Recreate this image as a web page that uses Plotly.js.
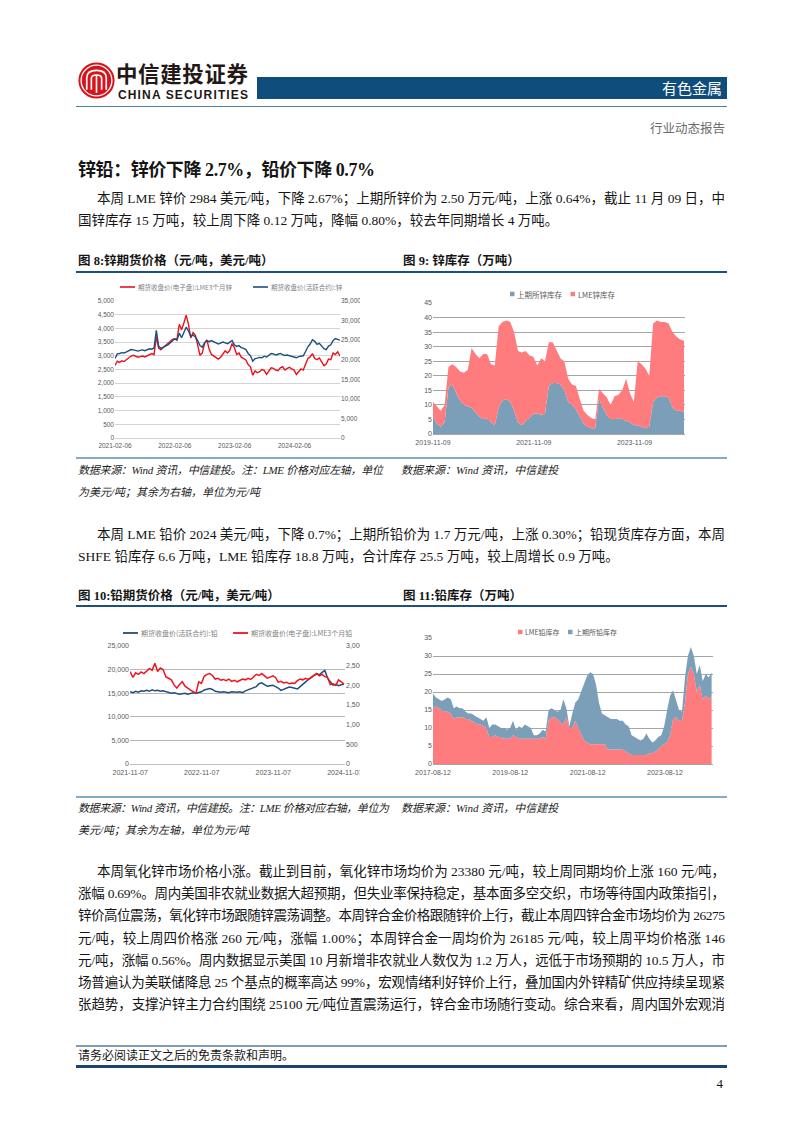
<!DOCTYPE html>
<html lang="zh-CN">
<head>
<meta charset="utf-8">
<title>有色金属 行业动态报告</title>
<script src="https://cdn.plot.ly/plotly-3.0.1.min.js"></script>
<style>
 html,body{margin:0;padding:0;background:#fff}
 body{width:802px;height:1133px;position:relative;overflow:hidden;font-family:"Liberation Serif","Noto Sans CJK SC",serif;color:#151515}
 .t{position:absolute;white-space:pre;line-height:18px;height:18px}
 .body{font-size:13.5px}
 .src{font-size:11px;font-style:italic;color:#222}
 .ft{font-size:12.5px;font-weight:bold}
 .rule{position:absolute;left:76px;width:651px}
 .chart{position:absolute;overflow:hidden}
</style>
</head>
<body>
<!-- header -->
<svg style="position:absolute;left:78px;top:62px" width="37" height="37" viewBox="0 0 36 36">
 <circle cx="18" cy="18" r="17.6" fill="#d7141b"/>
 <circle cx="18" cy="18" r="15" fill="none" stroke="#fff" stroke-width="1.3"/>
 <path d="M8.5 27 V15.5 Q8.5 8.2 18 8.2 Q27.5 8.2 27.5 15.5 V27" fill="none" stroke="#fff" stroke-width="1.6"/>
 <path d="M13 27 V16 Q13 12.6 18 12.6 Q23 12.6 23 16 V27" fill="none" stroke="#fff" stroke-width="1.6"/>
 <path d="M18 12.6 V30" stroke="#fff" stroke-width="1.6"/>
</svg>
<div class="t" style="left:116px;top:57px;height:24px;line-height:24px;font:bold 21.5px 'Noto Sans CJK SC';color:#231815" data-w="132">中信建投证券</div>
<div class="t" style="left:118px;top:88px;height:12px;line-height:12px;font:bold 12px 'Liberation Sans';color:#231815" data-w="130">CHINA SECURITIES</div>
<div style="position:absolute;left:257px;top:77px;width:470px;height:22px;background:#0f4d7d"></div>
<div class="t" style="right:80px;top:78px;height:20px;line-height:20px;font-size:15px;font-family:'Noto Sans CJK SC';color:#fff">有色金属</div>
<div class="rule" style="top:105.5px;height:1.5px;background:#4d7fa5"></div>
<div class="t" style="right:77px;top:119px;font-size:12.5px;font-family:'Noto Sans CJK SC';color:#6b6b6b">行业动态报告</div>

<!-- section title -->
<div class="t" style="left:78px;top:158px;height:24px;line-height:24px;font-size:18px;font-weight:bold" data-w="297">锌铅：锌价下降 2.7%，铅价下降 0.7%</div>

<!-- paragraph 1 -->
<div class="t body" style="left:97px;top:190px" data-w="628">本周 LME 锌价 2984 美元/吨，下降 2.67%；上期所锌价为 2.50 万元/吨，上涨 0.64%，截止 11 月 09 日，中</div>
<div class="t body" style="left:78px;top:212px">国锌库存 15 万吨，较上周下降 0.12 万吨，降幅 0.80%，较去年同期增长 4 万吨。</div>

<!-- figure titles row 1 -->
<div class="t ft" style="left:78px;top:252px">图 8:锌期货价格（元/吨，美元/吨）</div>
<div class="t ft" style="left:403px;top:252px">图 9: 锌库存（万吨）</div>
<div class="rule" style="top:270.5px;height:2px;background:#1d4f7c"></div>

<div class="chart" style="left:80px;top:275px;width:280px;height:175px"><div id="p8"></div></div>
<div class="chart" style="left:400px;top:275px;width:300px;height:175px"><div id="p9"></div></div>

<div class="rule" style="top:457px;height:2px;background:#86a9c4"></div>
<div class="t src" style="left:78px;top:461px" data-w="305">数据来源：Wind 资讯，中信建投。注：LME 价格对应左轴，单位</div>
<div class="t src" style="left:78px;top:483px">为美元/吨；其余为右轴，单位为元/吨</div>
<div class="t src" style="left:401px;top:461px">数据来源：Wind 资讯，中信建投</div>

<!-- paragraph 2 -->
<div class="t body" style="left:97px;top:526px" data-w="628">本周 LME 铅价 2024 美元/吨，下降 0.7%；上期所铅价为 1.7 万元/吨，上涨 0.30%；铅现货库存方面，本周</div>
<div class="t body" style="left:78px;top:548px">SHFE 铅库存 6.6 万吨，LME 铅库存 18.8 万吨，合计库存 25.5 万吨，较上周增长 0.9 万吨。</div>

<!-- figure titles row 2 -->
<div class="t ft" style="left:78px;top:587px">图 10:铅期货价格（元/吨，美元/吨）</div>
<div class="t ft" style="left:403px;top:587px">图 11:铅库存（万吨）</div>
<div class="rule" style="top:604.5px;height:2px;background:#1d4f7c"></div>

<div class="chart" style="left:80px;top:610px;width:280px;height:178px"><div id="p10"></div></div>
<div class="chart" style="left:400px;top:610px;width:320px;height:178px"><div id="p11"></div></div>

<div class="rule" style="top:795.5px;height:2px;background:#86a9c4"></div>
<div class="t src" style="left:78px;top:799px" data-w="311">数据来源：Wind 资讯，中信建投。注：LME 价格对应右轴，单位为</div>
<div class="t src" style="left:78px;top:821px">美元/吨；其余为左轴，单位为元/吨</div>
<div class="t src" style="left:401px;top:799px">数据来源：Wind 资讯，中信建投</div>

<!-- paragraph 3 -->
<div class="t body" style="left:97px;top:863px" data-w="628">本周氧化锌市场价格小涨。截止到目前，氧化锌市场均价为 23380 元/吨，较上周同期均价上涨 160 元/吨，</div>
<div class="t body" style="left:78px;top:885.2px" data-w="647">涨幅 0.69%。周内美国非农就业数据大超预期，但失业率保持稳定，基本面多空交织，市场等待国内政策指引，</div>
<div class="t body" style="left:78px;top:907.4px" data-w="647">锌价高位震荡，氧化锌市场跟随锌震荡调整。本周锌合金价格跟随锌价上行，截止本周四锌合金市场均价为 26275</div>
<div class="t body" style="left:78px;top:929.6px" data-w="647">元/吨，较上周四价格涨 260 元/吨，涨幅 1.00%；本周锌合金一周均价为 26185 元/吨，较上周平均价格涨 146</div>
<div class="t body" style="left:78px;top:951.8px" data-w="647">元/吨，涨幅 0.56%。周内数据显示美国 10 月新增非农就业人数仅为 1.2 万人，远低于市场预期的 10.5 万人，市</div>
<div class="t body" style="left:78px;top:974px" data-w="647">场普遍认为美联储降息 25 个基点的概率高达 99%，宏观情绪利好锌价上行，叠加国内外锌精矿供应持续呈现紧</div>
<div class="t body" style="left:78px;top:996.2px" data-w="647">张趋势，支撑沪锌主力合约围绕 25100 元/吨位置震荡运行，锌合金市场随行变动。综合来看，周内国外宏观消</div>

<!-- footer -->
<div class="rule" style="top:1044.5px;height:2px;background:#7f9db4"></div>
<div class="t" style="left:78px;top:1047px;font-size:12px">请务必阅读正文之后的免责条款和声明。</div>
<div class="rule" style="top:1065px;height:2.5px;background:#1b446d"></div>
<div class="t" style="right:79px;top:1075px;font-size:13px">4</div>

<script>
// ---------------- data ----------------
// Figure 8: zinc futures prices, sampled every 14 days from 2021-02-06
const zincPriceStart = '2021-02-06';
const zincPriceTicks = ['2021-02-06', '2022-02-06', '2023-02-06', '2024-02-06'];
const zincLmeName = '期货收盘价(电子盘):LME3个月锌';
const zincShfeName = '期货收盘价(活跃合约):锌';
const zincLmeUsd = [2650,2800,2760,2820,2790,2860,2900,2990,3020,2990,
  2950,2970,2990,2960,3000,3030,3080,3040,3700,3280,
  3220,3300,3360,3450,3520,3600,3620,3600,4150,3950,
  4200,4480,4150,3650,3850,3750,3400,3020,3100,3450,
  3580,3250,3050,3000,2960,2880,2950,3050,3180,3100,
  3200,3450,3300,3050,3100,2950,2900,2850,2680,2600,
  2290,2450,2380,2420,2500,2470,2320,2450,2560,2540,
  2480,2460,2560,2600,2480,2540,2580,2520,2480,2320,
  2420,2520,2480,2700,2900,2960,3080,2900,2860,2920,
  2780,2640,2700,2880,2860,3100,3050,3150,2984];
const zincShfeCny = [20300,21500,21600,21800,21700,22000,22300,22600,22500,22300,
  22200,22400,22500,22300,22600,22800,22700,23000,27500,23500,
  22900,23200,23400,23800,24300,24800,25300,25000,26800,25600,
  27000,28300,27400,26000,26300,25800,24900,23600,23200,24300,
  24900,24600,24900,24700,24300,24000,24200,24500,24300,24100,
  24500,24900,23800,23400,23600,23100,22900,22600,21600,21000,
  19600,20300,20400,20600,20500,20900,20700,21200,21600,21500,
  21200,21400,21600,21300,21100,21200,21000,20700,20600,20500,
  20800,20900,21000,22100,23300,24000,25100,24700,23900,24200,
  23500,22800,22600,23500,23800,24900,25400,25100,25000];

// Figure 9: zinc inventories (10k t), sampled every 28 days from 2019-11-09
const zincStockStart = '2019-11-09';
const zincStockTicks = ['2019-11-09', '2021-11-09', '2023-11-09'];
const zincShfeStockName = '上期所锌库存';
const zincLmeStockName = 'LME锌库存';
const zincStockShfe = [6,3.5,2.5,4,16,17,14,11.5,10,9.5,
  9,7.5,6,5,5.5,4,3,9,11.5,12,
  11,8,4,3,4.5,5.5,7,7,6.5,7,
  16.5,17.5,17.5,17,15,11,10,8.5,6,3.5,
  2.5,2,2,12,9,6.5,5,5,5.5,5,
  4.5,4,3,3,2.5,2,2.5,11,12.5,13,
  13,12.5,9,8,8,7.5];
const zincStockLme = [5,6,5.5,6,7,7,9,10,11,12.5,
  20.5,20,20,22.5,22,20,20.5,28,27,27,
  27.5,27,24.5,25,24,21.5,19.5,16.5,19.5,18,
  15,14,11.5,9,10,8,7,8,6,4.5,
  4,3.5,3,3.5,5,6,5,8,8,10,
  14.5,10,8,22,21.5,20.5,17.5,27,26.5,25.5,
  25.5,25.5,26,25.5,24.5,24.5];

// Figure 10: lead futures prices, sampled every 14 days from 2021-11-07
const leadPriceStart = '2021-11-07';
const leadPriceTicks = ['2021-11-07', '2022-11-07', '2023-11-07', '2024-11-07'];
const leadShfeName = '期货收盘价(活跃合约):铅';
const leadLmeName = '期货收盘价(电子盘):LME3个月铅';
const leadShfeCny = [15300,15100,15400,15200,15500,15400,15600,15400,15700,15500,
  15600,15400,15500,15300,15100,15000,15100,14900,14800,14900,
  15000,14800,14900,15100,15000,15100,15300,15700,15900,16000,
  15800,15400,15300,15200,15300,15200,15100,15300,15200,15200,
  15300,15100,15500,15700,15900,16100,16400,17000,17200,16800,
  16500,16600,16700,16400,16100,15600,15800,16100,16300,16200,
  16000,15900,16400,17000,17400,17900,18400,18700,19100,18900,
  19400,19800,18200,17400,16700,16900,16600,16800,16900];
const leadLmeUsd = [2350,2200,2320,2280,2340,2300,2360,2430,2380,2560,
  2350,2440,2400,2220,2180,2140,2010,1930,2020,2090,
  1980,1920,1880,1840,1800,2090,2050,2230,2280,2300,
  2250,2160,2180,2130,2150,2120,2160,2100,2130,2090,
  2120,2160,2140,2180,2150,2220,2280,2250,2300,2240,
  2180,2210,2240,2200,2080,2100,2060,2080,2040,2060,
  2050,2120,2160,2140,2180,2150,2200,2260,2300,2240,
  2280,2220,2200,2020,2040,2000,2140,2090,2030];

// Figure 11: lead inventories (10k t), sampled every 28 days from 2017-08-12
const leadStockStart = '2017-08-12';
const leadStockTicks = ['2017-08-12', '2019-08-12', '2021-08-12', '2023-08-12'];
const leadLmeStockName = 'LME铅库存';
const leadShfeStockName = '上期所铅库存';
const leadStockLme = [15.5,16,15.5,15,14.5,14.5,14,12.5,13,13,
  13,12.5,12.5,12,11.5,11,11,10.5,10,7.5,
  7.5,8,7.5,7.5,7,7,7,8,7.5,7,
  7,7,7,7,7,7,7,7.5,7,12,
  13,13,12.5,11.5,11,13,10,10,12,10,
  8,6.5,6,5.5,5.5,5.5,5.5,5.5,5.5,4,
  4,4,4,4,4,3.5,3,2.5,2.5,2.5,
  2.5,2.5,2.5,3,3,3.5,4,5,5.5,6,
  8,12.5,13,12,12,17,25,27,25,20,
  22,18,19,18,18.8];
const leadStockShfe = [4,2.5,2.5,2.5,3.5,4,4,3,3,2.5,
  2.5,2,1.5,2,2,2,1.5,1.5,3,2.5,
  3.5,3,3,2.5,3,2.5,3,4,2,3.5,
  3,4,3.5,3,1,1,1.5,2,2,3,
  2.5,2,2,3.5,7,2.5,0.5,4,5,8,
  12,15.5,18.5,20,19.5,16.5,11.5,8.5,8,9,
  8.5,8.5,8.5,8,8,7.5,7.5,5.5,5,4.5,
  4,4.5,6,4,3,3,3.5,3,5,9,
  11,8,5,3,2.5,7,5,5.5,5,5,
  5.5,5,6,6,6.6];

// ---------------- helpers ----------------
function sampleDates(start, stepDays, n) {
  const t0 = Date.parse(start + 'T00:00:00Z');
  const out = [];
  for (let i = 0; i < n; i++) out.push(new Date(t0 + i * stepDays * 86400000).toISOString().slice(0, 10));
  return out;
}
function mapper(W, H, m) {
  return {
    x: px => (px - m.l) / (W - m.l - m.r),
    y: py => (H - m.b - py) / (H - m.t - m.b)
  };
}
const TICKFONT = 'Liberation Sans, Arial, sans-serif';
const CJK = 'Noto Sans CJK SC, Liberation Sans, sans-serif';
const cfg = {staticPlot: true, displayModeBar: false};

function lineLegend(M, x0, x1, y, color, width, label, size) {
  return {
    shape: {type: 'line', xref: 'paper', yref: 'paper', x0: M.x(x0), x1: M.x(x1), y0: M.y(y), y1: M.y(y), line: {color: color, width: width}},
    ann: {xref: 'paper', yref: 'paper', x: M.x(x1 + 1), y: M.y(y), xanchor: 'left', yanchor: 'middle', text: label, showarrow: false, font: {family: CJK, size: size, color: '#7f7f7f'}}
  };
}
function boxLegend(M, x0, y, s, color, label, size) {
  return {
    shape: {type: 'rect', xref: 'paper', yref: 'paper', x0: M.x(x0), x1: M.x(x0 + s), y0: M.y(y - s / 2), y1: M.y(y + s / 2), fillcolor: color, line: {width: 0}},
    ann: {xref: 'paper', yref: 'paper', x: M.x(x0 + s + 0.5), y: M.y(y), xanchor: 'left', yanchor: 'middle', text: label, showarrow: false, font: {family: CJK, size: size, color: '#595959'}}
  };
}

const RED8 = '#e8141c', BLUE8 = '#1b4f7c';
const SALMON = '#ff7c7e', STEEL = '#7b9eb9';

// ---------------- Figure 8 ----------------
(function () {
  const W = 300, H = 175, m = {l: 35, r: 40, t: 26, b: 12};
  const M = mapper(W, H, m);
  const d = sampleDates(zincPriceStart, 14, zincLmeUsd.length);
  const L1 = lineLegend(M, 40, 55, 12, RED8, 1.6, zincLmeName, 6.5);
  const L2 = lineLegend(M, 173, 188, 12, BLUE8, 1.6, zincShfeName, 6.5);
  Plotly.newPlot('p8', [
    {x: d, y: zincLmeUsd, type: 'scatter', mode: 'lines', name: zincLmeName, line: {color: RED8, width: 1.4}, yaxis: 'y', showlegend: false},
    {x: d, y: zincShfeCny, type: 'scatter', mode: 'lines', name: zincShfeName, line: {color: BLUE8, width: 1.4}, yaxis: 'y2', showlegend: false}
  ], {
    width: W, height: H, margin: m, paper_bgcolor: 'rgba(0,0,0,0)', plot_bgcolor: 'rgba(0,0,0,0)',
    font: {family: TICKFONT, size: 6.5, color: '#595959'},
    xaxis: {type: 'date', range: ['2021-02-06', '2024-11-09'], tickmode: 'array', tickvals: zincPriceTicks, ticktext: zincPriceTicks, showgrid: false, zeroline: false, showline: true, linecolor: '#d0d0d0', linewidth: 1, ticks: '', ticklabelstandoff: 1},
    yaxis: {range: [0, 5000], dtick: 500, tickformat: ',', gridcolor: '#d4d4d4', gridwidth: 1, zeroline: false, showline: false, ticks: ''},
    yaxis2: {overlaying: 'y', side: 'right', range: [0, 35000], dtick: 5000, tickformat: ',', showgrid: false, zeroline: false, showline: false, ticks: ''},
    shapes: [L1.shape, L2.shape], annotations: [L1.ann, L2.ann]
  }, cfg);
})();

// ---------------- Figure 9 ----------------
(function () {
  const W = 300, H = 175, m = {l: 33, r: 15, t: 28, b: 16};
  const M = mapper(W, H, m);
  const d = sampleDates(zincStockStart, 28, zincStockShfe.length);
  const L1 = boxLegend(M, 110, 19, 4.5, STEEL, zincShfeStockName, 7.5);
  const L2 = boxLegend(M, 170.5, 19, 4.5, SALMON, zincLmeStockName, 7.5);
  Plotly.newPlot('p9', [
    {x: d, y: zincStockShfe, type: 'scatter', mode: 'lines', name: zincShfeStockName, stackgroup: 'one', fillcolor: STEEL, line: {width: 0, color: STEEL}, showlegend: false},
    {x: d, y: zincStockLme, type: 'scatter', mode: 'lines', name: zincLmeStockName, stackgroup: 'one', fillcolor: SALMON, line: {width: 0, color: SALMON}, showlegend: false}
  ], {
    width: W, height: H, margin: m, paper_bgcolor: 'rgba(0,0,0,0)', plot_bgcolor: 'rgba(0,0,0,0)',
    font: {family: TICKFONT, size: 7, color: '#595959'},
    xaxis: {type: 'date', range: ['2019-11-09', '2024-11-09'], tickmode: 'array', tickvals: zincStockTicks, ticktext: zincStockTicks, showgrid: false, zeroline: false, showline: true, linecolor: '#a6a6a6', linewidth: 1, ticks: '', ticklabelstandoff: 2},
    yaxis: {range: [0, 45], dtick: 5, gridcolor: '#a6a6a6', gridwidth: 1, zeroline: false, showline: false, ticks: ''},
    shapes: [L1.shape, L2.shape], annotations: [L1.ann, L2.ann]
  }, cfg);
})();

// ---------------- Figure 10 ----------------
(function () {
  const W = 300, H = 178, m = {l: 50, r: 35, t: 36, b: 24};
  const M = mapper(W, H, m);
  const d = sampleDates(leadPriceStart, 14, leadShfeCny.length);
  const BLUE = '#1f4e79', RED = '#f0141e';
  const L1 = lineLegend(M, 43, 58, 23, BLUE, 1.8, leadShfeName, 7);
  const L2 = lineLegend(M, 153, 168, 23, RED, 1.8, leadLmeName, 7);
  Plotly.newPlot('p10', [
    {x: d, y: leadShfeCny, type: 'scatter', mode: 'lines', name: leadShfeName, line: {color: BLUE, width: 1.5}, yaxis: 'y', showlegend: false},
    {x: d, y: leadLmeUsd, type: 'scatter', mode: 'lines', name: leadLmeName, line: {color: RED, width: 1.5}, yaxis: 'y2', showlegend: false}
  ], {
    width: W, height: H, margin: m, paper_bgcolor: 'rgba(0,0,0,0)', plot_bgcolor: 'rgba(0,0,0,0)',
    font: {family: TICKFONT, size: 7, color: '#595959'},
    xaxis: {type: 'date', range: ['2021-11-06', '2024-11-08'], tickmode: 'array', tickvals: leadPriceTicks, ticktext: leadPriceTicks, showgrid: false, zeroline: false, showline: true, linecolor: '#bfbfbf', linewidth: 1, ticks: '', ticklabelstandoff: 2},
    yaxis: {range: [0, 25000], dtick: 5000, tickformat: ',', gridcolor: '#b8b8b8', gridwidth: 1, zeroline: false, showline: false, ticks: ''},
    yaxis2: {overlaying: 'y', side: 'right', range: [0, 3000], dtick: 500, tickformat: ',', showgrid: false, zeroline: false, showline: false, ticks: ''},
    shapes: [L1.shape, L2.shape], annotations: [L1.ann, L2.ann]
  }, cfg);
})();

// ---------------- Figure 11 ----------------
(function () {
  const W = 320, H = 178, m = {l: 33, r: 7, t: 28, b: 24};
  const M = mapper(W, H, m);
  const d = sampleDates(leadStockStart, 28, leadStockLme.length);
  const L1 = boxLegend(M, 118, 22, 4.5, SALMON, leadLmeStockName, 7);
  const L2 = boxLegend(M, 168, 22, 4.5, STEEL, leadShfeStockName, 7);
  Plotly.newPlot('p11', [
    {x: d, y: leadStockLme, type: 'scatter', mode: 'lines', name: leadLmeStockName, stackgroup: 'one', fillcolor: SALMON, line: {width: 0, color: SALMON}, showlegend: false},
    {x: d, y: leadStockShfe, type: 'scatter', mode: 'lines', name: leadShfeStockName, stackgroup: 'one', fillcolor: STEEL, line: {width: 0, color: STEEL}, showlegend: false}
  ], {
    width: W, height: H, margin: m, paper_bgcolor: 'rgba(0,0,0,0)', plot_bgcolor: 'rgba(0,0,0,0)',
    font: {family: TICKFONT, size: 7, color: '#595959'},
    xaxis: {type: 'date', range: ['2017-08-12', '2024-11-08'], tickmode: 'array', tickvals: leadStockTicks, ticktext: leadStockTicks, showgrid: false, zeroline: false, showline: true, linecolor: '#a6a6a6', linewidth: 1, ticks: '', ticklabelstandoff: 2},
    yaxis: {range: [0, 35], dtick: 5, gridcolor: '#a6a6a6', gridwidth: 1, zeroline: false, showline: false, ticks: ''},
    shapes: [L1.shape, L2.shape], annotations: [L1.ann, L2.ann]
  }, cfg);
})();

// ---------------- fit justified text lines ----------------
function fitLines() {
  document.querySelectorAll('[data-w]').forEach(el => {
    const target = parseFloat(el.dataset.w);
    el.style.letterSpacing = '0px';
    el.style.display = 'inline-block';
    const w = el.getBoundingClientRect().width;
    const n = Array.from(el.textContent).length;
    if (n > 1) el.style.letterSpacing = ((target - w) / (n - 1)) + 'px';
  });
}
if (document.fonts && document.fonts.ready) document.fonts.ready.then(fitLines); else fitLines();
fitLines();
</script>
</body>
</html>
